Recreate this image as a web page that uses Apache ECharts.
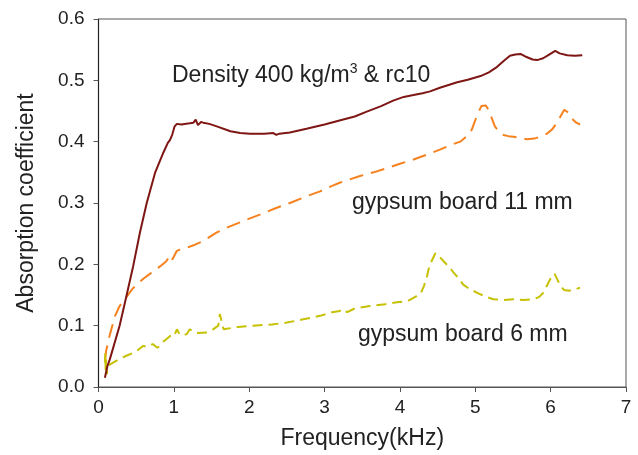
<!DOCTYPE html>
<html>
<head>
<meta charset="utf-8">
<script src="https://cdn.jsdelivr.net/npm/echarts@6/dist/echarts.min.js"></script>
<style>
  html, body { margin: 0; padding: 0; background: #fff; }
  #chart { width: 638px; height: 455px; }
</style>
</head>
<body>
<div id="chart"></div>
<script>
// Absorption coefficient vs frequency for three panel configurations

const densityFreq = [0.085, 0.12, 0.15, 0.28, 0.37, 0.46, 0.55, 0.64, 0.75, 0.86, 0.92, 0.95, 0.98, 1.01, 1.04, 1.1, 1.21, 1.26, 1.29, 1.32, 1.36, 1.39, 1.47, 1.57, 1.75, 1.88, 2.01, 2.2, 2.32, 2.36, 2.4, 2.54, 2.76, 3.0, 3.21, 3.4, 3.56, 3.75, 3.91, 4.05, 4.18, 4.3, 4.4, 4.53, 4.76, 4.9, 5.07, 5.18, 5.29, 5.38, 5.46, 5.53, 5.6, 5.68, 5.76, 5.82, 5.9, 5.98, 6.06, 6.12, 6.22, 6.32, 6.42];
const densityAbs = [0.015, 0.035, 0.045, 0.10, 0.148, 0.197, 0.252, 0.30, 0.349, 0.382, 0.398, 0.403, 0.412, 0.425, 0.429, 0.428, 0.430, 0.431, 0.436, 0.427, 0.432, 0.431, 0.429, 0.425, 0.417, 0.414, 0.413, 0.413, 0.414, 0.411, 0.413, 0.415, 0.421, 0.428, 0.435, 0.441, 0.449, 0.458, 0.467, 0.473, 0.476, 0.479, 0.482, 0.488, 0.497, 0.501, 0.507, 0.513, 0.522, 0.532, 0.540, 0.542, 0.543, 0.538, 0.534, 0.533, 0.536, 0.542, 0.548, 0.544, 0.541, 0.540, 0.541];

const gyp11Freq = [0.09, 0.1, 0.15, 0.22, 0.28, 0.35, 0.45, 0.59, 0.7, 0.82, 0.9, 0.95, 0.98, 1.04, 1.08, 1.17, 1.28, 1.39, 1.57, 1.745, 1.95, 2.14, 2.34, 2.54, 2.74, 2.94, 3.1, 3.2, 3.25, 3.32, 3.47, 3.65, 3.83, 4.0, 4.18, 4.36, 4.53, 4.68, 4.8, 4.9, 4.955, 5.0, 5.04, 5.08, 5.1, 5.14, 5.175, 5.22, 5.26, 5.32, 5.375, 5.44, 5.51, 5.6, 5.685, 5.78, 5.86, 5.95, 6.02, 6.08, 6.13, 6.18, 6.2, 6.24, 6.28, 6.34, 6.39];
const gyp11Abs = [0.045, 0.058, 0.085, 0.116, 0.132, 0.143, 0.16, 0.176, 0.186, 0.197, 0.205, 0.215, 0.208, 0.222, 0.224, 0.227, 0.232, 0.238, 0.252, 0.262, 0.272, 0.281, 0.291, 0.300, 0.310, 0.319, 0.328, 0.333, 0.335, 0.338, 0.344, 0.350, 0.357, 0.364, 0.371, 0.379, 0.387, 0.395, 0.400, 0.410, 0.420, 0.435, 0.447, 0.458, 0.460, 0.459, 0.452, 0.438, 0.425, 0.415, 0.411, 0.409, 0.408, 0.406, 0.404, 0.405, 0.408, 0.413, 0.420, 0.430, 0.441, 0.452, 0.455, 0.447, 0.438, 0.431, 0.428];

const gyp6Freq = [0.085, 0.09, 0.095, 0.1, 0.11, 0.13, 0.15, 0.2, 0.3, 0.37, 0.45, 0.52, 0.59, 0.66, 0.72, 0.78, 0.82, 0.86, 0.9, 0.95, 1.0, 1.04, 1.08, 1.17, 1.21, 1.3, 1.44, 1.52, 1.59, 1.61, 1.635, 1.66, 1.68, 1.85, 2.05, 2.3, 2.5, 2.7, 2.94, 3.1, 3.2, 3.25, 3.3, 3.4, 3.6, 3.8, 3.96, 4.1, 4.22, 4.27, 4.32, 4.36, 4.38, 4.42, 4.47, 4.52, 4.58, 4.65, 4.71, 4.78, 4.84, 4.92, 5.02, 5.12, 5.24, 5.38, 5.51, 5.64, 5.77, 5.85, 5.905, 5.95, 5.995, 6.05, 6.09, 6.13, 6.18, 6.24, 6.32, 6.39];
const gyp6Abs = [0.04, 0.055, 0.025, 0.045, 0.021, 0.035, 0.032, 0.04, 0.047, 0.051, 0.055, 0.060, 0.067, 0.066, 0.070, 0.064, 0.067, 0.074, 0.078, 0.083, 0.082, 0.094, 0.085, 0.086, 0.094, 0.088, 0.089, 0.094, 0.100, 0.119, 0.121, 0.094, 0.097, 0.098, 0.100, 0.102, 0.105, 0.110, 0.116, 0.122, 0.124, 0.127, 0.122, 0.128, 0.132, 0.135, 0.138, 0.140, 0.148, 0.151, 0.165, 0.181, 0.192, 0.205, 0.218, 0.213, 0.205, 0.196, 0.187, 0.177, 0.167, 0.160, 0.154, 0.148, 0.143, 0.142, 0.143, 0.142, 0.143, 0.147, 0.154, 0.165, 0.176, 0.185, 0.175, 0.165, 0.158, 0.157, 0.159, 0.162];

const xTicks = [0, 1, 2, 3, 4, 5, 6, 7];
const yTicks = [0.0, 0.1, 0.2, 0.3, 0.4, 0.5, 0.6];

const seriesLabels = ['Density 400 kg/m{sup|3} & rc10', 'gypsum board 11 mm', 'gypsum board 6 mm'];

const zip = (xs, ys) => xs.map((x, i) => [x, ys[i]]);

const FONT = '"Liberation Sans", Arial, Helvetica, sans-serif';

const chart = echarts.init(document.getElementById('chart'), null, { renderer: 'canvas' });

chart.setOption({
  animation: false,
  backgroundColor: '#ffffff',
  grid: {
    left: 98.5, right: 12, top: 19, bottom: 67,
    show: true, borderColor: '#555', borderWidth: 1, backgroundColor: 'transparent'
  },
  xAxis: {
    type: 'value',
    min: xTicks[0], max: xTicks[xTicks.length - 1], interval: 1,
    name: 'Frequency(kHz)', nameLocation: 'middle', nameGap: 40,
    nameTextStyle: { fontFamily: FONT, fontSize: 23, color: '#222' },
    axisLine: { show: true, lineStyle: { color: '#555', width: 1.2 } },
    axisTick: { show: true, inside: false, length: 5, lineStyle: { color: '#555' } },
    axisLabel: { fontFamily: FONT, fontSize: 19, color: '#222', margin: 11 },
    splitLine: { show: false }
  },
  yAxis: {
    type: 'value',
    min: yTicks[0], max: yTicks[yTicks.length - 1], interval: 0.1,
    name: 'Absorption coefficient', nameLocation: 'middle', nameGap: 60, nameRotate: 90,
    nameTextStyle: { fontFamily: FONT, fontSize: 23, color: '#222' },
    axisLine: { show: true, lineStyle: { color: '#222', width: 1.2 } },
    axisTick: { show: true, inside: false, length: 5, lineStyle: { color: '#555' } },
    axisLabel: {
      fontFamily: FONT, fontSize: 19, color: '#222', margin: 14,
      formatter: v => v.toFixed(1)
    },
    splitLine: { show: false }
  },
  series: [
    {
      type: 'line', data: zip(densityFreq, densityAbs), showSymbol: false, smooth: false,
      lineStyle: { color: '#7e1614', width: 2 }, z: 3
    },
    {
      type: 'line', data: zip(gyp11Freq, gyp11Abs), showSymbol: false, smooth: false,
      lineStyle: { color: '#f5821f', width: 2, type: [14, 8] }, z: 2
    },
    {
      type: 'line', data: zip(gyp6Freq, gyp6Abs), showSymbol: false, smooth: false,
      lineStyle: { color: '#c6c102', width: 2, type: [10, 6] }, z: 2
    }
  ],
  graphic: [
    {
      type: 'text', left: 172, top: 62,
      style: {
        text: seriesLabels[0], fill: '#222', fontFamily: FONT, fontSize: 23, lineHeight: 28,
        rich: {
          sup: { fontFamily: FONT, fontSize: 14, lineHeight: 14, verticalAlign: 'top', fill: '#222' }
        }
      }
    },
    {
      type: 'text', left: 352, top: 191,
      style: { text: seriesLabels[1], fill: '#222', fontFamily: FONT, fontSize: 23 }
    },
    {
      type: 'text', left: 358, top: 323,
      style: { text: seriesLabels[2], fill: '#222', fontFamily: FONT, fontSize: 23 }
    }
  ]
});
</script>
</body>
</html>
